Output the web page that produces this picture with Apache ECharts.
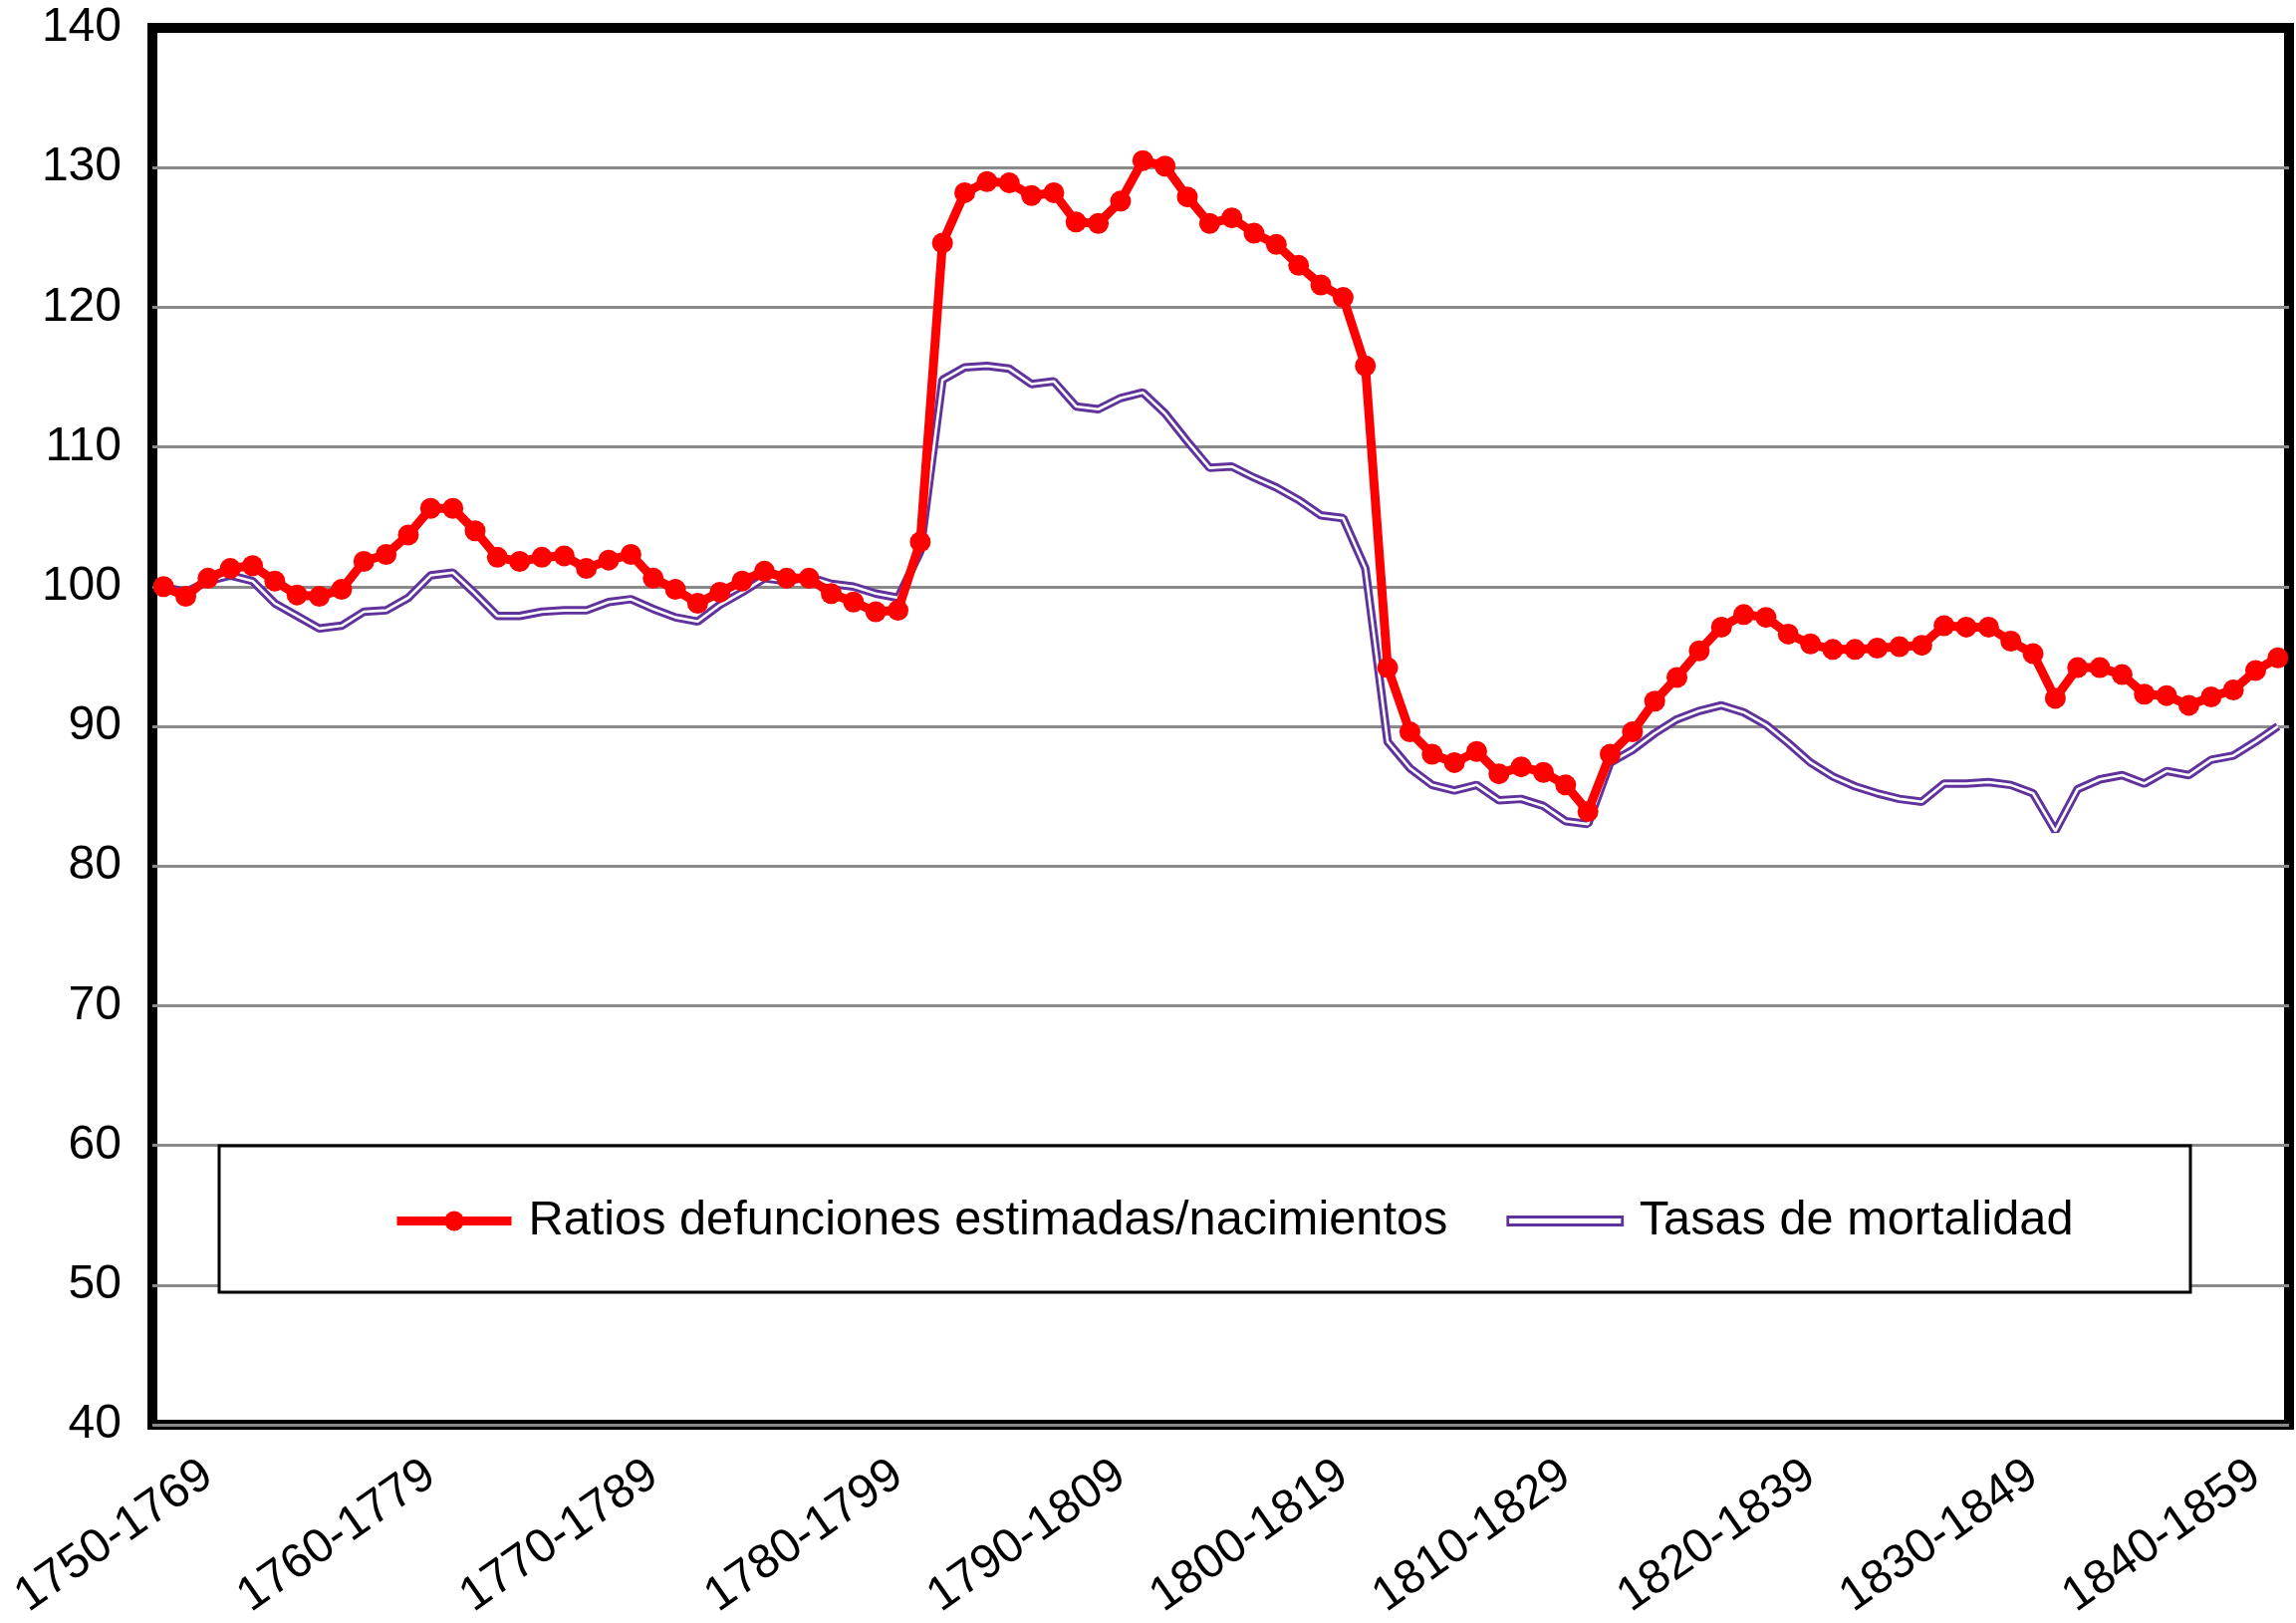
<!DOCTYPE html>
<html>
<head>
<meta charset="utf-8">
<script src="https://cdn.jsdelivr.net/npm/echarts@6/dist/echarts.min.js"></script>
<style>
html,body{margin:0;padding:0;background:#fff;}
#chart{width:2305px;height:1629px;}
</style>
</head>
<body>
<div id="chart"></div>
<script>
// 20-year moving windows, one per year
const categories = [];
for (let y = 1750; y <= 1845; y++) categories.push(y + '-' + (y + 19));

// tick labels as printed under the axis
const tickLabels = ['1750-1769','1760-1779','1770-1789','1780-1799','1790-1809',
                    '1800-1819','1810-1829','1820-1839','1830-1849','1840-1859'];

const ratios = [100.0, 99.3, 100.6, 101.3, 101.5, 100.4, 99.4, 99.3, 99.8, 101.8,
  102.3, 103.7, 105.6, 105.6, 104.0, 102.1, 101.8, 102.1, 102.2, 101.3,
  101.9, 102.3, 100.6, 99.8, 98.8, 99.6, 100.4, 101.1, 100.6, 100.6,
  99.5, 98.9, 98.2, 98.3, 103.2, 124.6, 128.2, 129.0, 128.9, 128.0,
  128.2, 126.1, 126.0, 127.6, 130.5, 130.1, 127.9, 126.0, 126.4, 125.3,
  124.5, 123.0, 121.6, 120.7, 115.8, 94.2, 89.6, 88.0, 87.4, 88.2,
  86.6, 87.1, 86.7, 85.8, 83.9, 88.0, 89.6, 91.8, 93.5, 95.4,
  97.1, 98.0, 97.8, 96.6, 95.9, 95.5, 95.5, 95.6, 95.7, 95.8,
  97.2, 97.1, 97.1, 96.1, 95.2, 92.0, 94.2, 94.2, 93.7, 92.3,
  92.2, 91.5, 92.1, 92.6, 94.0, 94.9];

const tasas = [100.0, 99.6, 100.4, 100.8, 100.4, 98.8, 97.9, 97.0, 97.2, 98.2,
  98.3, 99.2, 100.8, 101.0, 99.5, 97.9, 97.9, 98.2, 98.3, 98.3,
  98.9, 99.1, 98.4, 97.8, 97.5, 98.7, 99.6, 100.6, 100.4, 100.7,
  100.2, 100.0, 99.5, 99.2, 102.5, 114.8, 115.7, 115.8, 115.6, 114.5,
  114.7, 112.9, 112.7, 113.5, 113.9, 112.4, 110.4, 108.5, 108.6, 107.8,
  107.1, 106.2, 105.1, 104.9, 101.3, 88.9, 87.0, 85.8, 85.4, 85.8,
  84.7, 84.8, 84.3, 83.2, 83.0, 87.4, 88.3, 89.5, 90.5, 91.1,
  91.5, 91.0, 90.1, 88.8, 87.4, 86.4, 85.7, 85.2, 84.8, 84.6,
  85.9, 85.9, 86.0, 85.8, 85.2, 82.5, 85.5, 86.2, 86.5, 85.9,
  86.8, 86.5, 87.6, 87.9, 88.9, 90.0];

const NAME_RATIO = 'Ratios defunciones estimadas/nacimientos';
const NAME_TASAS = 'Tasas de mortalidad';

// which categories carry the printed tick labels (as placed in the original figure)
const labelAt = [2, 12, 22, 33, 43, 53, 63, 74, 84, 94];

const RED = '#ff0000';
const PURPLE = '#5f329c';
const FONT = "'Liberation Sans', Arial, Helvetica, sans-serif";

const chart = echarts.init(document.getElementById('chart'), null, {renderer: 'canvas'});
chart.setOption({
  animation: false,
  backgroundColor: '#fff',
  textStyle: {fontFamily: FONT},
  grid: {
    left: 153, right: 7, top: 28, bottom: 199,
    show: true, borderColor: '#000', borderWidth: 10, backgroundColor: 'transparent'
  },
  xAxis: {
    type: 'category',
    data: categories,
    boundaryGap: true,
    axisLine: {show: false},
    axisTick: {show: false},
    splitLine: {show: false},
    axisLabel: {
      interval: function (i) { return labelAt.indexOf(i) >= 0; },
      formatter: function (v, i) { const k = labelAt.indexOf(i); return k >= 0 ? tickLabels[k] : ''; },
      rotate: 35, margin: 46, fontSize: 48, color: '#000', fontFamily: FONT
    }
  },
  yAxis: {
    type: 'value', min: 40, max: 140, interval: 10,
    axisLine: {show: false},
    axisTick: {show: false},
    axisLabel: {fontSize: 48, color: '#000', margin: 31, fontFamily: FONT},
    splitLine: {show: true, showMaxLine: false, lineStyle: {color: '#8a8a8a', width: 3}}
  },
  legend: {
    data: [
      {name: NAME_RATIO, itemStyle: {color: RED}, lineStyle: {color: RED, width: 9}},
      {name: NAME_TASAS, icon: 'path://M0,0H115V8H0Z',
       itemStyle: {color: '#fff', borderColor: PURPLE, borderWidth: 2.8}}
    ],
    left: 389, top: 1196,
    itemWidth: 115, itemHeight: 25, itemGap: 59,
    selectedMode: false,
    textStyle: {fontSize: 48.7, color: '#000', fontFamily: FONT, padding: [0, 0, 0, 12]}
  },
  graphic: [{
    type: 'rect', z: 3,
    shape: {x: 220, y: 1150, width: 1979, height: 147},
    style: {fill: '#fff', stroke: '#000', lineWidth: 3}
  }],
  series: [
    {
      name: NAME_TASAS, type: 'line', data: tasas, symbol: 'none', z: 2,
      lineStyle: {color: PURPLE, width: 8.5}, itemStyle: {color: PURPLE}
    },
    {
      name: 'tasas-inner', type: 'line', data: tasas, symbol: 'none', z: 3, silent: true,
      lineStyle: {color: '#fff', width: 2.6}, itemStyle: {color: '#fff'}
    },
    {
      name: NAME_RATIO, type: 'line', data: ratios, symbol: 'circle', symbolSize: 21,
      showAllSymbol: true, z: 4,
      lineStyle: {color: RED, width: 9}, itemStyle: {color: RED}
    }
  ]
});
</script>
</body>
</html>
